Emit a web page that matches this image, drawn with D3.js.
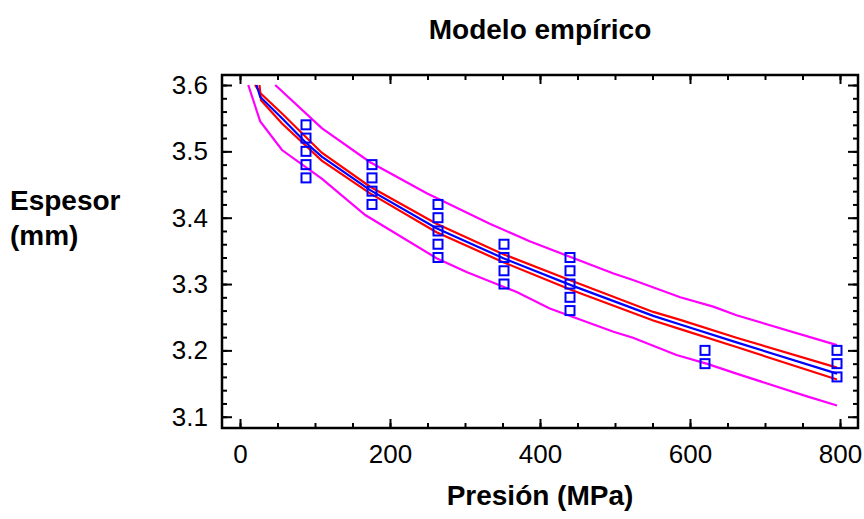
<!DOCTYPE html>
<html>
<head>
<meta charset="utf-8">
<script src="https://cdn.jsdelivr.net/npm/d3@7"></script>
<style>
  body { margin: 0; background: #fff; }
  text { font-family: "Liberation Sans", Arial, sans-serif; fill: #000; }
  .tick text { font-size: 26px; }
  .tick line { stroke: #000; stroke-width: 2px; }
  .title, .label { font-weight: bold; font-size: 28px; }
</style>
</head>
<body>
<div id="chart"></div>
<script>
// observed points (MPa, mm)
const presion = [88, 88, 88, 88, 88,
                 176, 176, 176, 176,
                 264, 264, 264, 264, 264,
                 352, 352, 352, 352,
                 440, 440, 440, 440, 440,
                 620, 620,
                 796, 796, 796];
const espesor = [3.54, 3.52, 3.50, 3.48, 3.46,
                 3.48, 3.46, 3.44, 3.42,
                 3.42, 3.40, 3.38, 3.36, 3.34,
                 3.36, 3.34, 3.32, 3.30,
                 3.34, 3.32, 3.30, 3.28, 3.26,
                 3.20, 3.18,
                 3.20, 3.18, 3.16];

// fitted model and limits as [x, y]
const fitLine = [[22, 3.600], [27, 3.582], [56, 3.550], [88, 3.513], [109, 3.492], [173, 3.442],
                 [262, 3.384], [351, 3.339], [442, 3.298], [551, 3.252], [587, 3.239], [662, 3.212], [796, 3.165]];
const meanUpper = [[20, 3.600], [27, 3.588], [56, 3.557], [109, 3.498], [173, 3.447], [262, 3.391],
                   [351, 3.345], [442, 3.305], [551, 3.258], [587, 3.246], [662, 3.219], [796, 3.174]];
const meanLower = [[26, 3.600], [28, 3.577], [56, 3.542], [109, 3.486], [173, 3.437], [262, 3.378],
                   [351, 3.333], [442, 3.291], [551, 3.245], [587, 3.232], [662, 3.205], [796, 3.156]];
const predUpper = [[47, 3.600], [109, 3.535], [173, 3.484], [249, 3.437], [333, 3.391], [387, 3.364],
                   [498, 3.316], [524, 3.306], [587, 3.280], [631, 3.266], [662, 3.253], [796, 3.208]];
const predLower = [[11, 3.600], [27, 3.545], [56, 3.502], [109, 3.459], [167, 3.404], [262, 3.339],
                   [302, 3.318], [369, 3.288], [413, 3.263], [498, 3.228], [524, 3.219], [582, 3.193],
                   [622, 3.180], [662, 3.165], [755, 3.131], [796, 3.117]];

const xTicks = [0, 200, 400, 600, 800];
const yTicks = [3.1, 3.2, 3.3, 3.4, 3.5, 3.6];
const xMinor = d3.range(0, 801, 50);
const yMinor = d3.range(3.1, 3.601, 0.02);

const W = 864, H = 519;
const pL = 222, pR = 858, pT = 75, pB = 428;

const svg = d3.select("#chart").append("svg")
    .attr("width", W)
    .attr("height", H);

const x = d3.scaleLinear().domain([-24, 824]).range([pL, pR]);
const y = d3.scaleLinear().domain([3.083, 3.6151]).range([pB, pT]);

svg.append("defs").append("clipPath").attr("id", "clip")
  .append("rect")
    .attr("x", pL).attr("y", pT)
    .attr("width", pR - pL).attr("height", pB - pT);

// ticks on all four sides, pointing in
function addAxis(axis, tx, ty) {
  const g = svg.append("g").attr("transform", `translate(${tx},${ty})`).call(axis);
  g.select(".domain").remove();
  return g;
}
addAxis(d3.axisLeft(y).tickValues(yMinor).tickSize(-5).tickFormat(""), pL, 0);
addAxis(d3.axisLeft(y).tickValues(yTicks).tickSize(-10).tickPadding(14).tickFormat(d3.format(".1f")), pL, 0);
addAxis(d3.axisRight(y).tickValues(yMinor).tickSize(-5).tickFormat(""), pR, 0);
addAxis(d3.axisRight(y).tickValues(yTicks).tickSize(-10).tickFormat(""), pR, 0);
addAxis(d3.axisBottom(x).tickValues(xMinor).tickSize(-5).tickFormat(""), 0, pB);
addAxis(d3.axisBottom(x).tickValues(xTicks).tickSize(-9).tickPadding(17).tickFormat(d3.format("d")), 0, pB);
addAxis(d3.axisTop(x).tickValues(xMinor).tickSize(-5).tickFormat(""), 0, pT);
addAxis(d3.axisTop(x).tickValues(xTicks).tickSize(-9).tickFormat(""), 0, pT);

svg.append("rect")
    .attr("x", pL).attr("y", pT)
    .attr("width", pR - pL).attr("height", pB - pT)
    .attr("fill", "none")
    .attr("stroke", "#000")
    .attr("stroke-width", 2.5);

const line = d3.line().x(d => x(d[0])).y(d => y(d[1]));
const plot = svg.append("g").attr("clip-path", "url(#clip)");

[[predUpper, "#ff00ff"], [predLower, "#ff00ff"],
 [meanUpper, "#ff0000"], [meanLower, "#ff0000"],
 [fitLine, "#0000ff"]].forEach(([pts, col]) => {
  plot.append("path")
      .datum(pts)
      .attr("d", line)
      .attr("fill", "none")
      .attr("stroke", col)
      .attr("stroke-width", 2.2);
});

plot.selectAll("rect.pt")
  .data(presion.map((p, i) => [p, espesor[i]]))
  .enter().append("rect")
    .attr("class", "pt")
    .attr("x", d => x(d[0]) - 4.5)
    .attr("y", d => y(d[1]) - 4.5)
    .attr("width", 9)
    .attr("height", 9)
    .attr("fill", "none")
    .attr("stroke", "#0000ff")
    .attr("stroke-width", 2);

svg.append("text")
    .attr("class", "title")
    .attr("x", (pL + pR) / 2)
    .attr("y", 39)
    .attr("text-anchor", "middle")
    .text("Modelo empírico");

svg.append("text")
    .attr("class", "label")
    .attr("x", (pL + pR) / 2)
    .attr("y", 505)
    .attr("text-anchor", "middle")
    .text("Presión (MPa)");

const yl = svg.append("text").attr("class", "label").attr("x", 10).attr("y", 210);
yl.append("tspan").attr("x", 10).text("Espesor");
yl.append("tspan").attr("x", 10).attr("dy", 35).text("(mm)");
</script>
</body>
</html>
